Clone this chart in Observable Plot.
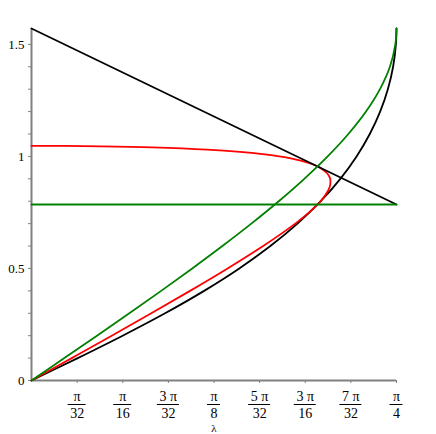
<!DOCTYPE html>
<html><head><meta charset="utf-8">
<script src="https://cdn.jsdelivr.net/npm/d3@7"></script>
<script src="https://cdn.jsdelivr.net/npm/@observablehq/plot@0.6"></script>
<style>body{margin:0;background:#fff} svg text{font-family:"Liberation Serif","DejaVu Serif",serif !important;}</style>
</head><body><div id="chart"></div>
<script>
const PI = Math.PI;

// black curve
const blackCurveX = [0, 0.0995, 0.1961, 0.2874, 0.3714, 0.4471, 0.5140, 0.5723, 0.6223, 0.6645, 0.6995, 0.7279, 0.7502, 0.7668, 0.7781, 0.7841, 0.7854];
const blackCurveY = [0, 0.1, 0.2, 0.3, 0.4, 0.5, 0.6, 0.7, 0.8, 0.9, 1.0, 1.1, 1.2, 1.3, 1.4, 1.5, 1.5708];

// green curve
const greenCurveX = [0, 0.0707, 0.1409, 0.2105, 0.2790, 0.3459, 0.4107, 0.4730, 0.5320, 0.5870, 0.6373, 0.6818, 0.7198, 0.7498, 0.7712, 0.7829, 0.7854];
const greenCurveY = [0, 0.1, 0.2, 0.3, 0.4, 0.5, 0.6, 0.7, 0.8, 0.9, 1.0, 1.1, 1.2, 1.3, 1.4, 1.5, 1.5708];

// red curve
const redCurveX = [0, 0.0865, 0.1726, 0.2577, 0.3412, 0.4220, 0.4985, 0.5675, 0.5973, 0.6221, 0.6390, 0.6430, 0.6427, 0.6362, 0.6205, 0.6045, 0.5814, 0.5604, 0.5332, 0.4973, 0.4484, 0.3777, 0.2602, 0.1488, 0.0717, 0.0319, 0];
const redCurveY = [0, 0.1, 0.2, 0.3, 0.4, 0.5, 0.6, 0.7, 0.75, 0.8, 0.85, 0.875, 0.9, 0.925, 0.95, 0.965, 0.98, 0.99, 1.0, 1.01, 1.02, 1.03, 1.04, 1.045, 1.0467, 1.0471, 1.0472];

// black straight line
const blackLineX = [0, 0.7854];
const blackLineY = [1.5708, 0.7854];

// green horizontal line
const greenLineX = [0, 0.7854];
const greenLineY = [0.7854, 0.7854];

// axis ticks
const yTickValues = [0, 0.5, 1, 1.5];
const yTickLabels = ["0", "0.5", "1", "1.5"];
const yMinorTicks = [0.1, 0.2, 0.3, 0.4, 0.6, 0.7, 0.8, 0.9, 1.1, 1.2, 1.3, 1.4];
const xTickMultiples = [1, 2, 3, 4, 5, 6, 7, 8]; // in units of π/32
const xTickNumerators = ["π", "π", "3 π", "π", "5 π", "3 π", "7 π", "π"];
const xTickDenominators = ["32", "16", "32", "8", "32", "16", "32", "4"];
const xLabel = "λ";

const pairs = (xs, ys) => xs.map((x, i) => ({x, y: ys[i]}));
const xTicks = xTickMultiples.map((m, i) => ({x: m * PI / 32, num: xTickNumerators[i], den: xTickDenominators[i]}));

const axisColor = "#808080";
const serif = "Liberation Serif, DejaVu Serif, serif";

function fractionBars(index, scales, values, dimensions) {
  const g = d3.create("svg:g");
  const yPix = dimensions.height - dimensions.marginBottom + 24.5;
  xTicks.forEach(t => {
    const cx = scales.x(t.x);
    const w = t.den.length === 1 ? 13 : (t.num.length > 1 ? 22 : 18);
    g.append("line")
      .attr("x1", cx - w / 2).attr("x2", cx + w / 2)
      .attr("y1", yPix).attr("y2", yPix)
      .attr("stroke", "black").attr("stroke-width", 1);
  });
  return g.node();
}

const lineOpts = {x: "x", y: "y", strokeWidth: 1.8};
const txt = {fontFamily: serif, fontSize: 14, fill: "black", lineAnchor: "middle", frameAnchor: "bottom"};

const chart = Plot.plot({
  width: 436, height: 434,
  marginLeft: 31, marginRight: 40, marginTop: 28, marginBottom: 54,
  x: {domain: [0, PI / 4], label: null},
  y: {domain: [0, PI / 2], label: null},
  style: {fontFamily: serif, fontSize: "13px", color: "black", background: "white"},
  marks: [
    Plot.axisY({ticks: yMinorTicks, tickSize: 3, tickFormat: () => "", stroke: axisColor, label: null}),
    Plot.axisY({ticks: yTickValues, tickSize: 3, tickPadding: 4, stroke: axisColor, fill: "black", fontSize: 13, fontFamily: serif,
      tickFormat: v => yTickLabels[yTickValues.indexOf(v)], label: null}),
    Plot.axisX({ticks: xTicks.map(t => t.x), tickSize: 3, tickFormat: () => "", stroke: axisColor, label: null}),
    Plot.text(xTicks, {...txt, x: "x", text: "num", dy: 16}),
    Plot.text(xTicks, {...txt, x: "x", text: "den", dy: 33}),
    fractionBars,
    Plot.text([xLabel], {...txt, fontSize: 11, lineAnchor: "bottom", x: PI / 8, text: d => d, dy: 51}),
    Plot.ruleX([0], {stroke: axisColor, strokeWidth: 2}),
    Plot.ruleY([0], {stroke: axisColor, strokeWidth: 2}),
    Plot.line(pairs(blackCurveX, blackCurveY), {...lineOpts, stroke: "black", curve: "catmull-rom"}),
    Plot.line(pairs(redCurveX, redCurveY), {...lineOpts, stroke: "#ff0000", curve: "catmull-rom"}),
    Plot.line(pairs(blackLineX, blackLineY), {...lineOpts, stroke: "black"}),
    Plot.line(pairs(greenCurveX, greenCurveY), {...lineOpts, stroke: "#008000", curve: "catmull-rom"}),
    Plot.line(pairs(greenLineX, greenLineY), {...lineOpts, stroke: "#008000"})
  ]
});
document.getElementById("chart").appendChild(chart);
</script>
</body></html>
